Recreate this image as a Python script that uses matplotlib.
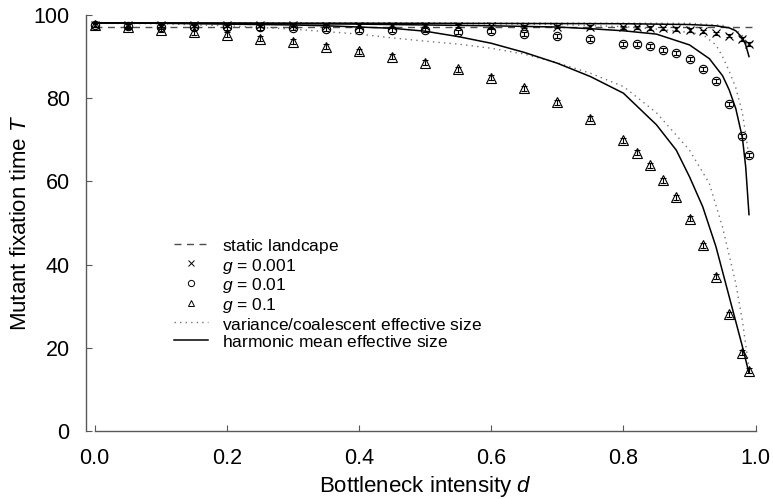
import matplotlib
matplotlib.use("Agg")
import matplotlib.pyplot as plt
from matplotlib.lines import Line2D
import numpy as np

plt.rcParams["font.family"] = ["Liberation Sans", "DejaVu Sans"]
plt.rcParams["mathtext.fontset"] = "custom"
plt.rcParams["mathtext.rm"] = "Liberation Sans"
plt.rcParams["mathtext.it"] = "Liberation Sans:italic"

# simulation points
d_sim = [0.0, 0.05, 0.1, 0.15, 0.2, 0.25, 0.3, 0.35, 0.4, 0.45, 0.5, 0.55, 0.6,
         0.65, 0.7, 0.75, 0.8, 0.82, 0.84, 0.86, 0.88, 0.9, 0.92, 0.94, 0.96,
         0.98, 0.99]
T_g0001 = [97.6, 97.6, 97.5, 97.5, 97.5, 97.5, 97.5, 97.4, 97.4, 97.4, 97.4, 97.4,
           97.3, 97.2, 97.2, 97.1, 97.0, 97.0, 96.9, 96.8, 96.6, 96.4, 96.1, 95.6,
           95.0, 94.2, 93.0]
T_g001 = [97.6, 97.4, 97.2, 97.0, 97.0, 97.0, 96.8, 96.6, 96.4, 96.5, 96.3, 96.0,
          96.1, 95.4, 95.0, 94.2, 93.1, 93.1, 92.5, 91.6, 90.8, 89.4, 87.1, 84.1,
          78.6, 71.0, 66.3]
T_g01 = [97.6, 97.2, 96.4, 95.8, 95.2, 94.3, 93.6, 92.4, 91.3, 90.0, 88.5, 86.9,
         84.9, 82.4, 79.0, 75.1, 69.9, 66.9, 63.9, 60.3, 56.2, 51.0, 44.7, 37.1,
         28.1, 18.8, 14.5]
err_g0001 = 0.4
err_g001 = 0.5
err_g01 = 0.6

# static landscape
d_static = [0.0, 1.0]
T_static = [97.2, 97.2]

# harmonic mean effective size (solid)
d_hm_0001 = [0.0, 0.5, 0.8, 0.9, 0.94, 0.96, 0.97, 0.98, 0.985, 0.99]
T_hm_0001 = [98.1, 98.0, 97.9, 97.7, 97.4, 96.9, 96.2, 94.5, 92.8, 90.0]
d_hm_001 = [0.0, 0.2, 0.4, 0.5, 0.6, 0.7, 0.75, 0.8, 0.85, 0.9, 0.93, 0.95,
            0.96, 0.97, 0.98, 0.985, 0.99]
T_hm_001 = [98.1, 98.0, 97.8, 97.6, 97.4, 97.1, 96.7, 96.2, 95.4, 92.8, 89.5,
            85.4, 82.0, 77.5, 70.5, 63.5, 52.0]
d_hm_01 = [0.0, 0.1, 0.2, 0.3, 0.35, 0.4, 0.45, 0.5, 0.55, 0.6, 0.65, 0.7, 0.75,
           0.8, 0.85, 0.88, 0.9, 0.92, 0.94, 0.96, 0.98, 0.99]
T_hm_01 = [98.1, 98.0, 97.8, 97.6, 97.4, 97.1, 96.8, 96.1, 94.8, 93.2, 91.0, 88.4,
           85.2, 81.2, 73.6, 67.5, 61.1, 53.9, 44.3, 32.3, 20.3, 13.9]

# variance/coalescent effective size (dotted)
d_var_0001 = [0.0, 0.5, 0.9, 0.95, 0.97, 0.98, 0.99]
T_var_0001 = [98.1, 98.1, 98.0, 97.5, 96.5, 95.0, 92.5]
d_var_001 = [0.0, 0.5, 0.7, 0.8, 0.85, 0.9, 0.92, 0.94, 0.95, 0.96, 0.97, 0.98, 0.99]
T_var_001 = [98.1, 98.0, 97.7, 97.2, 96.6, 95.8, 95.3, 92.8, 90.0, 86.5, 82.5,
             76.5, 66.0]
d_var_01 = [0.0, 0.1, 0.2, 0.3, 0.35, 0.4, 0.45, 0.5, 0.55, 0.6, 0.65, 0.7, 0.75,
            0.8, 0.85, 0.9, 0.93, 0.95, 0.97, 0.98, 0.99]
T_var_01 = [98.0, 97.9, 97.4, 96.6, 96.0, 95.4, 94.5, 93.7, 93.0, 92.0, 90.6, 88.5,
            86.0, 82.8, 76.5, 67.5, 59.5, 49.0, 35.5, 26.5, 15.0]

fig = plt.figure(figsize=(7.73, 4.99), dpi=100)
ax = fig.add_axes([0.1225, 0.1363, 0.855, 0.8337])

ax.plot(d_static, T_static, color="0.3", lw=1.0, ls=(0, (5, 4)))

for d, T in [(d_var_0001, T_var_0001), (d_var_001, T_var_001), (d_var_01, T_var_01)]:
    ax.plot(d, T, color="0.45", lw=1.0, ls=(0, (1, 3)))
for d, T in [(d_hm_0001, T_hm_0001), (d_hm_001, T_hm_001), (d_hm_01, T_hm_01)]:
    ax.plot(d, T, color="k", lw=1.1)

for T, err, mk, ms in [(T_g0001, err_g0001, "x", 6), (T_g001, err_g001, "o", 6),
                       (T_g01, err_g01, "^", 6.5)]:
    ax.errorbar(d_sim, T, yerr=err, fmt=mk, ms=ms, mfc="none", mec="k", mew=0.8,
                ecolor="k", elinewidth=0.8, capsize=2.5, capthick=0.8, clip_on=False)

ax.set_xlim(0, 1)
ax.set_ylim(0, 100)
ax.set_xticks(np.arange(0, 1.01, 0.2))
ax.set_xticklabels([f"{v:.1f}" for v in np.arange(0, 1.01, 0.2)])
ax.set_yticks(np.arange(0, 101, 20))

for s in ["top", "right"]:
    ax.spines[s].set_visible(False)
ax.spines["left"].set_position(("outward", 6))
for s in ["left", "bottom"]:
    ax.spines[s].set_color("0.35")
    ax.spines[s].set_linewidth(1.0)
ax.tick_params(direction="in", length=4, width=0.8, color="0.35", labelsize=15.5)
ax.tick_params(axis="x", pad=12)
ax.tick_params(axis="y", pad=12)

ax.set_xlabel("Bottleneck intensity $d$", fontsize=16, labelpad=4)
ax.set_ylabel("Mutant fixation time $T$", fontsize=16, labelpad=2)

handles = [
    Line2D([], [], color="0.3", lw=1.0, ls=(0, (5, 4))),
    Line2D([], [], ls="none", marker="x", ms=4.5, mec="k", mew=0.7),
    Line2D([], [], ls="none", marker="o", ms=4.5, mfc="none", mec="k", mew=0.7),
    Line2D([], [], ls="none", marker="^", ms=4.5, mfc="none", mec="k", mew=0.7),
    Line2D([], [], color="0.45", lw=1.0, ls=(0, (1, 3))),
    Line2D([], [], color="k", lw=1.1),
]
labels = [r"$\mathrm{static\ landcape}$", "$g$ = 0.001", "$g$ = 0.01", "$g$ = 0.1",
          r"$\mathrm{variance/coalescent\ effective\ size}$",
          r"$\mathrm{harmonic\ mean\ effective\ size}$"]
ax.legend(handles, labels, loc="upper left", bbox_to_anchor=(0.096, 0.505),
          frameon=False, fontsize=12.5, handlelength=2.0, handleheight=1.17,
          labelspacing=0.0, handletextpad=0.8)

fig.savefig("out.png", dpi=100)
